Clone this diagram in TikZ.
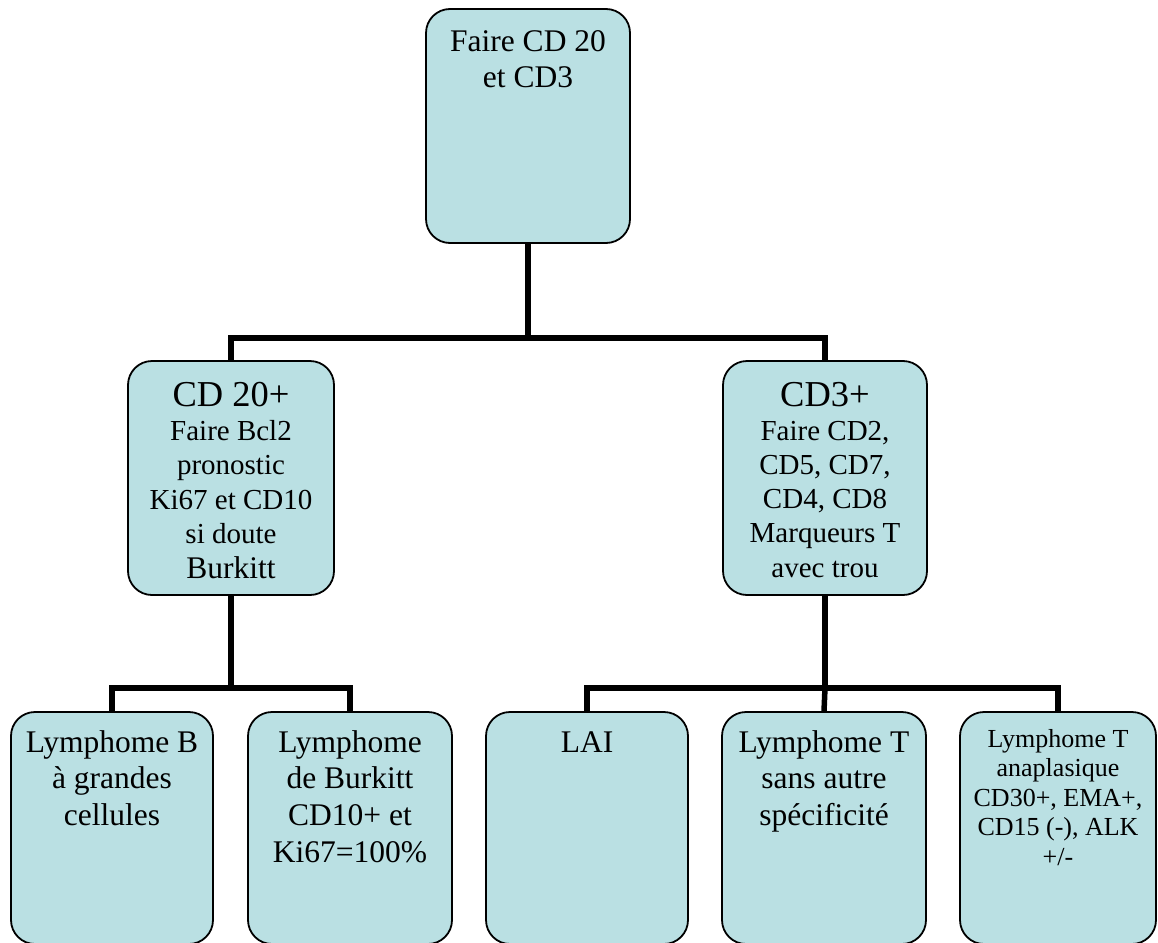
\documentclass[tikz,border=0pt]{standalone}
\usepackage{fontspec}
\setmainfont{Liberation Serif}
\newcommand{\tstrut}{\rule{0pt}{0.8em}}
\definecolor{boxfill}{RGB}{186,224,227}
\tikzset{
  box/.style={draw=black, fill=boxfill, rounded corners=24pt, line width=1.8pt, inner sep=0pt},
  conn/.style={draw=black, line width=5.5pt},
  txt/.style={anchor=north, align=center, inner sep=0pt, text=black},
  fbig/.style={font=\fontsize{31.5pt}{36.7pt}\selectfont},
  fhead/.style={font=\fontsize{36.5pt}{40pt}\selectfont},
  fmid/.style={font=\fontsize{29pt}{34.5pt}\selectfont},
  fsmall/.style={font=\fontsize{26pt}{29.5pt}\selectfont}
}
\begin{document}
\begin{tikzpicture}[x=1pt,y=-1pt]
\clip (0,0) rectangle (1158,942);
\fill[white] (0,0) rectangle (1158,942);
% boxes
\node[box, minimum width=204pt, minimum height=234pt] (n0) at (528,126) {};
\node[box, minimum width=206pt, minimum height=234pt] (cd20) at (231,478) {};
\node[box, minimum width=204pt, minimum height=234pt] (cd3) at (825,478) {};
\node[box, minimum width=202pt, minimum height=232pt] (b1) at (112,828) {};
\node[box, minimum width=204pt, minimum height=232pt] (b2) at (350,828) {};
\node[box, minimum width=202pt, minimum height=232pt] (b3) at (587,828) {};
\node[box, minimum width=204pt, minimum height=232pt] (b4) at (824,828) {};
\node[box, minimum width=196pt, minimum height=232pt] (b5) at (1058,828) {};
% connectors
\draw[conn] (n0.south) -- ++(0,94) coordinate (j0);
\draw[conn] (cd20.north) |- (j0) -| (cd3.north);
\draw[conn] (cd20.south) -- ++(0,92) coordinate (j1);
\draw[conn] (b1.north) |- (j1) -| (b2.north);
\draw[conn] (cd3.south) -- ++(0,92) coordinate (j2);
\draw[conn] (b3.north) |- (j2) -| (b5.north);
\draw[conn] (j2) -- (b4.north);
% texts
\node[txt, font=\fontsize{31.5pt}{36.5pt}\selectfont] (t0) at (528,25.8) {\tstrut Faire CD 20\\et CD3};
\node[txt, fhead] (t1a) at (231,376.8) {\tstrut CD 20+};
\node[txt, fmid] (t1b) at (231,416.8) {\tstrut Faire Bcl2\\pronostic\\Ki67 et CD10\\si doute\\{\fontsize{31.5pt}{34.5pt}\selectfont Burkitt}};
\node[txt, fhead] (t2a) at (825,376.8) {\tstrut CD3+};
\node[txt, font=\fontsize{29pt}{34.25pt}\selectfont] (t2b) at (825,416.8) {\tstrut Faire CD2,\\CD5, CD7,\\CD4, CD8\\Marqueurs T\\avec trou};
\node[txt, fbig] (t3) at (112,726.8) {\tstrut Lymphome B\\à grandes\\cellules};
\node[txt, fbig] (t4) at (350,726.8) {\tstrut Lymphome\\de Burkitt\\CD10+ et\\Ki67=100\%};
\node[txt, fbig] (t5) at (587,726.8) {\tstrut LAI};
\node[txt, fbig] (t6) at (824,726.8) {\tstrut Lymphome T\\sans autre\\spécificité};
\node[txt, fsmall] (t7) at (1058,726.2) {\tstrut Lymphome T\\anaplasique\\CD30+, EMA+,\\CD15 (-), ALK\\+/-};
\end{tikzpicture}
\end{document}
